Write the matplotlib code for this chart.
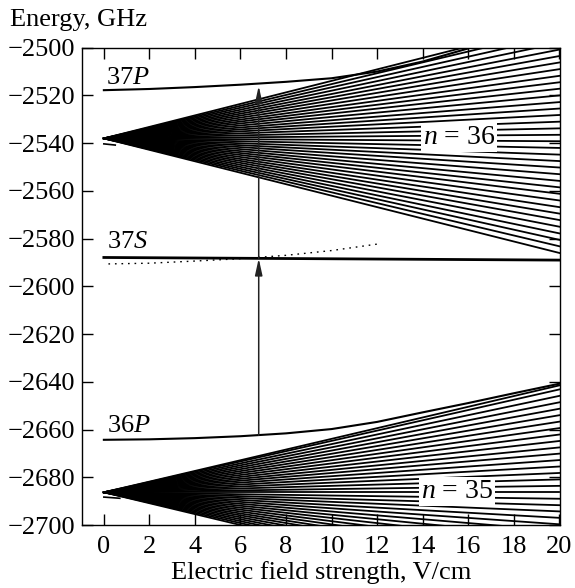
import matplotlib
matplotlib.use("Agg")
import matplotlib.pyplot as plt

# --- data --------------------------------------------------------------
field_span = [0.0, 20.0]

# n = 36 hydrogenic Stark fan: common zero-field energy, energy of each state at 20 V/cm
n36_zero = -2538.0
n36_end = [-2586.0, -2583.2, -2580.5, -2577.8, -2575.0, -2572.2, -2569.5, -2566.8,
           -2564.0, -2561.2, -2558.5, -2555.8, -2553.0, -2550.2, -2547.5, -2544.8,
           -2542.0, -2539.2, -2536.5, -2533.8, -2531.0, -2528.2, -2525.5, -2522.8,
           -2520.0, -2517.2, -2514.5, -2511.8, -2509.0, -2506.2, -2503.5, -2500.8,
           -2498.0, -2495.2, -2492.5, -2489.8]

# n = 35 fan
n35_zero = -2686.3
n35_end = [-2732.0, -2729.3, -2726.6, -2723.9, -2721.2, -2718.5, -2715.9, -2713.2,
           -2710.5, -2707.8, -2705.1, -2702.4, -2699.7, -2697.0, -2694.3, -2691.7,
           -2689.0, -2686.3, -2683.6, -2680.9, -2678.2, -2675.5, -2672.8, -2670.1,
           -2667.5, -2664.8, -2662.1, -2659.4, -2656.7, -2654.0, -2651.3, -2648.6,
           -2645.9, -2643.2, -2641.5]

p37_field = [0, 2, 4, 6, 8, 10, 12, 14, 16, 17]
p37_energy = [-2517.8, -2517.3, -2516.5, -2515.5, -2514.3, -2512.8, -2510.0, -2505.8, -2500.3, -2497.0]

p36_field = [0, 2, 4, 6, 8, 10, 12, 14, 16, 18, 20]
p36_energy = [-2664.3, -2664.1, -2663.6, -2662.8, -2661.6, -2659.8, -2656.8, -2652.8,
              -2648.9, -2644.8, -2640.8]

s37_field = [0, 20]
s37_energy = [-2587.9, -2589.0]

dotted_field = [0.2, 2, 4, 6, 8, 10, 12]
dotted_energy = [-2590.6, -2590.3, -2589.4, -2588.4, -2587.0, -2585.0, -2582.3]

stub36_field = [0.0, 0.5]
stub36_energy = [-2540.3, -2540.8]
stub35_field = [0.0, 0.7]
stub35_energy = [-2688.3, -2688.8]

# transition arrows: 36P -> 37S -> 37P at this field
arrow_field = 6.8
arrow_levels = [-2662.4, -2588.3, -2516.0]

x_ticks = list(range(0, 21, 2))
y_ticks = list(range(-2700, -2499, 20))

# --- style --------------------------------------------------------------
FS = 19
plt.rcParams["font.family"] = ["Liberation Serif", "DejaVu Serif"]
plt.rcParams["mathtext.fontset"] = "custom"
plt.rcParams["mathtext.rm"] = "Liberation Serif"
plt.rcParams["mathtext.it"] = "Liberation Serif:italic"
plt.rcParams["font.size"] = FS

fig = plt.figure(figsize=(5.75, 5.88), dpi=100)
ax = fig.add_axes([82 / 575, 63 / 588, 478 / 575, 477.3 / 588])

lw_fan = 1.3
for e_end in n36_end:
    ax.plot(field_span, [n36_zero, e_end], color="black", lw=lw_fan)
for e_end in n35_end:
    ax.plot(field_span, [n35_zero, e_end], color="black", lw=lw_fan)

ax.plot(p37_field, p37_energy, color="black", lw=1.5)
ax.plot(p36_field, p36_energy, color="black", lw=1.5)
ax.plot(s37_field, s37_energy, color="black", lw=2.0)
ax.plot(dotted_field, dotted_energy, color="black", lw=1.0, ls=(0, (1.2, 3.5)))
ax.plot(stub36_field, stub36_energy, color="black", lw=1.2)
ax.plot(stub35_field, stub35_energy, color="black", lw=1.2)

for lo, hi in zip(arrow_levels[:-1], arrow_levels[1:]):
    ax.annotate(
        "",
        xy=(arrow_field, hi),
        xytext=(arrow_field, lo),
        arrowprops=dict(
            arrowstyle="-|>,head_length=1.0,head_width=0.22",
            mutation_scale=10,
            color="#222222",
            lw=1.1,
            shrinkA=0,
            shrinkB=0,
        ),
        zorder=5,
    )

ax.text(0.1, -2515.3, "37$P$", ha="left", va="baseline")
ax.text(0.15, -2584.0, "37$S$", ha="left", va="baseline")
ax.text(0.15, -2661.0, "36$P$", ha="left", va="baseline")
box = dict(facecolor="white", edgecolor="none", pad=1.5)
ax.text(15.6, -2537.8, "$n$ = 36", ha="center", va="center", bbox=box, zorder=6, fontsize=20)
ax.text(15.5, -2686.0, "$n$ = 35", ha="center", va="center", bbox=box, zorder=6, fontsize=20)

ax.set_xlim(-0.96, 20.03)
ax.set_ylim(-2700, -2500)
ax.set_xticks(x_ticks)
ax.set_yticks(y_ticks)
ax.tick_params(direction="in", length=8, width=1.0, top=True, right=True, labelsize=FS)
ax.tick_params(axis="x", pad=8)
ax.tick_params(axis="y", pad=5)
for spine in ax.spines.values():
    spine.set_linewidth(1.0)

ax.set_xlabel("Electric field strength, V/cm", fontsize=FS, labelpad=2)
fig.text(10 / 575, 1 - 26 / 588, "Energy, GHz", fontsize=FS, ha="left", va="baseline")

fig.savefig("out.png", dpi=100)
plt.close(fig)
